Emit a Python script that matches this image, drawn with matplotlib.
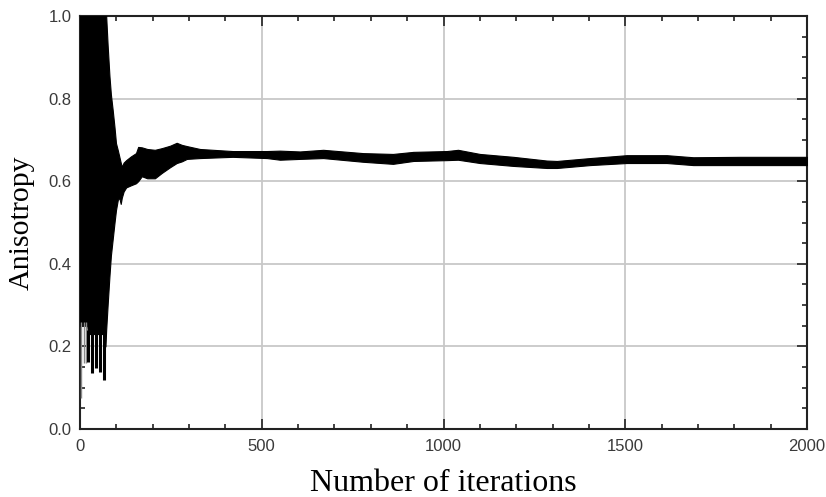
import numpy as np
import matplotlib
matplotlib.use('Agg')
import matplotlib.pyplot as plt
from matplotlib.ticker import MultipleLocator

# envelope of the (very noisy) anisotropy trace
iters = [0, 20, 22, 66, 70, 72, 76, 81, 85, 90, 95, 99, 104, 108, 112, 115, 120,
         127, 140, 154, 160, 170, 185, 206, 225, 248, 266, 280, 294, 330, 420,
         514, 550, 605, 669, 779, 861, 917, 1009, 1040, 1100, 1192, 1284, 1312,
         1403, 1504, 1614, 1687, 1816, 2000]
upper = [1.05, 1.05, 1.05, 1.05, 1.05, 1.0, 0.93, 0.855, 0.81, 0.772, 0.73, 0.692,
         0.675, 0.66, 0.645, 0.635, 0.645, 0.651, 0.66, 0.668, 0.683, 0.682, 0.678,
         0.676, 0.68, 0.686, 0.693, 0.688, 0.685, 0.678, 0.673, 0.673, 0.674, 0.672,
         0.676, 0.668, 0.666, 0.671, 0.673, 0.676, 0.666, 0.659, 0.650, 0.649,
         0.656, 0.663, 0.663, 0.658, 0.659, 0.659]
lower = [0.25, 0.25, 0.23, 0.23, 0.20, 0.24, 0.30, 0.37, 0.42, 0.46, 0.50, 0.53,
         0.555, 0.56, 0.545, 0.56, 0.575, 0.585, 0.59, 0.595, 0.60, 0.612, 0.607,
         0.607, 0.62, 0.634, 0.644, 0.648, 0.654, 0.656, 0.659, 0.656, 0.652, 0.654,
         0.656, 0.647, 0.642, 0.649, 0.651, 0.652, 0.644, 0.637, 0.632, 0.632,
         0.639, 0.644, 0.644, 0.639, 0.639, 0.639]

# downward spikes in the first iterations
thin_spike_iters = [4, 10, 16]
thin_spike_lows = [0.075, 0.16, 0.16]
thick_spike_iters = [23, 32, 45, 55, 65]
thick_spike_lows = [0.162, 0.135, 0.148, 0.138, 0.119]

fig = plt.figure(figsize=(8.26, 4.97), dpi=100)
ax = fig.add_axes([80 / 826, 1 - 429 / 497, 727 / 826, 413 / 497])

ax.fill_between(iters, lower, upper, color='black', linewidth=0.8, zorder=3)
ax.vlines(thin_spike_iters, thin_spike_lows, 0.26, color='#8a8a8a', linewidth=1.0, zorder=3)
ax.vlines(thick_spike_iters, thick_spike_lows, 0.24, color='black', linewidth=2.2, zorder=3)

ax.set_xlim(0, 2000)
ax.set_ylim(0, 1.0)
ax.xaxis.set_major_locator(MultipleLocator(500))
ax.xaxis.set_minor_locator(MultipleLocator(100))
ax.yaxis.set_major_locator(MultipleLocator(0.2))
ax.yaxis.set_minor_locator(MultipleLocator(0.05))
ax.yaxis.set_major_formatter(lambda v, p: f'{v:.1f}')

ax.grid(True, which='major', color='#c8c8c8', linewidth=1.3, zorder=0)
ax.set_axisbelow(True)

ax.tick_params(which='both', direction='in', top=True, right=True,
               colors='#222222', labelcolor='#3a3a3a', labelsize=12, width=1.2)
ax.tick_params(which='major', length=7)
ax.tick_params(which='minor', length=3.5)
ax.tick_params(axis='y', pad=6)
ax.tick_params(axis='x', pad=7)
for lab in ax.get_xticklabels() + ax.get_yticklabels():
    lab.set_fontfamily('Liberation Sans')

for s in ax.spines.values():
    s.set_linewidth(1.5)
    s.set_color('#222222')

ax.set_xlabel('Number of iterations', fontfamily='Liberation Serif', fontsize=23, labelpad=11)
ax.set_ylabel('Anisotropy', fontfamily='Liberation Serif', fontsize=21.5, labelpad=10)

fig.savefig('out.png', dpi=100)
